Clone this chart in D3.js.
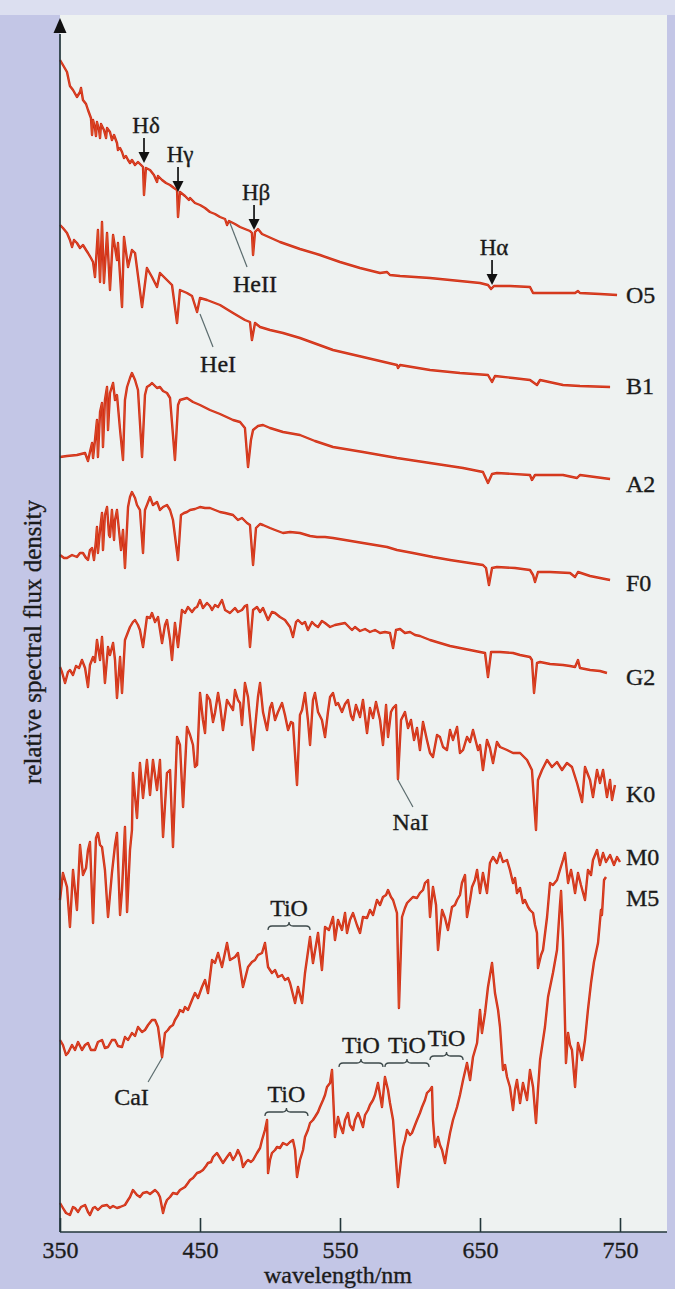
<!DOCTYPE html>
<html>
<head>
<meta charset="utf-8">
<script src="https://cdn.jsdelivr.net/npm/d3@7"></script>
<style>
  html, body { margin: 0; padding: 0; background: #c3c6e6; }
  svg { display: block; }
  text { font-family: "Liberation Serif", "Times New Roman", serif; fill: #1b1b1b; stroke: #1b1b1b; stroke-width: 0.35px; }
</style>
</head>
<body>
<svg id="chart" width="675" height="1289"></svg>
<script>
// Stellar spectra, stacked: [wavelength in nm, relative flux density (offset per class)]
const spectrumO5 = [
  [350,117.2],[352.1,116.7],[355,116.0],[357.1,114.6],[359.3,114.2],[362.1,113.5],[364.3,114.0],[365,114.4],
  [366.4,113.2],[368.6,112.8],[370,112.2],[372.1,111.4],[372.9,109.7],[373.6,111.2],[375,110.4],[375.7,109.6],
  [376.4,111.0],[377.9,110.2],[378.6,109.4],[379.3,110.8],[381.4,110.2],[382.9,109.4],[383.6,110.4],[385.7,110.0],
  [387.1,109.2],[388.6,109.7],[390.7,108.9],[391.4,108.2],[392.9,108.4],[394.3,108.0],[395.7,107.4],[397.1,107.6],
  [398.6,107.2],[400,106.9],[401.4,107.2],[403.6,106.7],[405.7,107.0],[407.9,106.7],[409.3,106.5],[410,103.7],
  [411.4,106.4],[414.3,106.2],[417.1,105.7],[419.3,105.0],[420,105.6],[422.9,105.2],[425.7,104.9],[428.6,104.7],
  [431.4,104.4],[433.6,104.2],[434.3,101.5],[435.7,104.0],[439.3,103.6],[442.1,103.2],[442.9,103.4],[446.4,102.9],
  [450,102.7],[453.6,102.4],[457.1,102.0],[460.7,101.8],[464.3,101.5],[467.9,101.3],[469.3,100.7],[470.7,101.1],
  [475,100.8],[478.6,100.5],[482.1,100.3],[485.7,100.1],[487.1,99.9],[487.9,97.7],[489.3,100.0],[491.4,100.3],
  [494.3,99.8],[507.1,99.0],[521.4,98.3],[535.7,97.7],[550,97.0],[564.3,96.4],[578.6,95.9],[583.6,96.0],
  [585.7,95.7],[592.9,95.6],[614.3,95.4],[635.7,95.1],[650,94.9],[655.7,94.7],[657.9,94.3],[660,94.6],
  [671.4,94.6],[685.7,94.5],[687.9,93.9],[707.1,93.9],[717.9,93.9],[720,94.1],[721.4,93.9],[735.7,93.8],[747.9,93.7]
];

const spectrumB1 = [
  [350,100.7],[352.1,100.4],[355,99.9],[357.1,99.2],[358.6,98.5],[360,99.2],[362.1,98.9],[364.3,98.4],
  [366.4,98.7],[368.6,98.2],[370,97.9],[372.1,97.4],[373.6,97.0],[375,95.5],[377.1,100.2],[378.6,95.0],
  [380,101.0],[381.4,94.9],[383.6,99.9],[385.7,94.2],[387.9,99.7],[390.7,97.2],[391.4,98.9],[394.3,92.5],
  [395.7,99.5],[398.6,96.5],[401.4,98.2],[403.6,97.9],[408.6,92.5],[412.1,96.4],[415.7,95.5],[419.3,94.5],
  [421.4,95.9],[426.4,95.2],[430,94.7],[433.6,90.9],[435.7,94.2],[440.7,93.9],[444.3,93.6],[447.9,92.0],
  [450,93.4],[455,93.2],[464.3,92.7],[473.6,91.9],[482.1,91.2],[485.7,91.0],[487.1,89.2],[489.3,90.9],
  [492.9,90.5],[500,90.2],[509.3,89.9],[521.4,89.4],[545,88.2],[566.4,87.5],[590.7,86.7],[591.4,86.4],
  [592.9,86.7],[614.3,86.2],[635.7,85.9],[655.7,85.7],[658.6,85.0],[660.7,85.6],[673.6,85.4],[685.7,85.2],
  [690.7,84.7],[692.9,85.2],[709.3,84.7],[721.4,84.6],[742.9,84.5]
];

const spectrumA2 = [
  [350,77.5],[355,77.6],[362.1,77.7],[367.9,77.9],[370,77.1],[371.4,78.0],[372.9,78.9],[373.6,77.4],
  [375,79.2],[376.4,81.2],[377.1,77.5],[378.6,82.0],[380,82.9],[380.7,78.5],[382.1,83.2],[383.6,84.5],
  [384.3,80.2],[385.7,83.9],[387.9,84.9],[389.3,83.2],[390.7,83.7],[392.9,80.2],[395,77.2],[396.4,83.2],
  [397.9,84.5],[400,85.4],[401.4,85.9],[403.6,85.2],[405.7,84.2],[408.6,77.5],[410.7,83.7],[412.1,84.5],
  [414.3,84.7],[415.7,84.9],[419.3,84.4],[421.4,84.5],[423.6,84.1],[426.4,83.9],[428.6,83.4],[432.1,77.2],
  [434.3,82.7],[435.7,83.2],[440.7,83.4],[445,83.0],[450,82.7],[457.1,82.2],[464.3,81.8],[473.6,81.2],
  [478.6,81.0],[482.1,80.4],[484.3,76.5],[486.4,79.2],[487.9,80.2],[491.4,80.6],[495,80.7],[500,80.4],
  [509.3,80.0],[521.4,79.7],[532.1,79.1],[545,78.5],[566.4,78.0],[590.7,77.4],[614.3,76.9],[637.9,76.4],
  [652.1,76.0],[655.7,74.9],[658.6,75.8],[662.1,75.9],[685.7,75.7],[687.1,75.2],[689.3,75.7],[709.3,75.7],
  [719.3,75.4],[721.4,75.7],[732.1,75.5],[742.9,75.3]
];

const spectrumF0 = [
  [350,67.7],[352.9,67.4],[355,67.4],[358.6,67.7],[362.1,67.5],[364.3,67.9],[366.4,67.9],[368.6,67.4],
  [370,67.2],[371.4,68.2],[372.9,68.4],[374.3,67.2],[375.7,69.2],[376.4,70.5],[377.1,67.9],[378.6,70.2],
  [380,71.9],[380.7,68.2],[382.1,71.7],[383.6,72.5],[385,69.7],[385.7,69.5],[387.1,72.2],[388.6,69.2],
  [389.3,71.2],[390.7,72.2],[392.1,70.2],[393.6,68.2],[395,70.2],[396.4,66.4],[398.6,72.5],[400,73.5],
  [401.4,74.0],[403.6,73.4],[405,72.7],[407.1,72.2],[409.3,67.9],[410.7,72.2],[412.1,72.7],[414.3,73.5],
  [416.4,72.7],[419.3,73.0],[421.4,72.2],[423.6,72.5],[426.4,72.7],[428.6,72.2],[430.7,71.2],[434.3,67.2],
  [436.4,71.7],[438.6,71.9],[440.7,72.0],[442.9,72.2],[446.4,72.3],[450,72.5],[453.6,72.4],[457.1,72.4],
  [460.7,72.2],[464.3,72.0],[467.9,71.9],[473.6,71.7],[477.1,71.2],[480,71.4],[483.6,70.9],[485.7,70.7],
  [487.9,66.7],[490,70.4],[492.9,70.8],[495,70.7],[500,70.4],[503.6,70.2],[509.3,69.9],[514.3,70.0],
  [521.4,69.9],[528.6,69.6],[533.6,69.5],[539.3,69.5],[545,69.4],[553.6,69.2],[566.4,68.9],[575,68.7],
  [583.6,68.5],[590.7,68.2],[602.1,67.9],[616.4,67.5],[628.6,67.2],[637.9,67.0],[652.1,66.7],[654.3,66.4],
  [656.4,64.7],[658.6,66.4],[662.1,66.5],[675,66.4],[685.7,66.2],[687.9,65.7],[689.3,65.0],[691.4,66.0],
  [700,66.0],[714.3,65.9],[717.9,65.5],[720,66.0],[728.6,65.6],[735.7,65.4],[742.9,65.2]
];

const spectrumG2 = [
  [350,56.5],[351.4,56.0],[353.6,54.9],[355.7,56.0],[357.1,56.2],[359.3,55.7],[361.4,56.6],[363.6,56.4],
  [365.7,57.2],[367.9,56.4],[370,54.5],[371.4,56.7],[373.6,57.5],[375,57.0],[376.4,59.2],[378.6,57.2],
  [380,59.5],[382.1,54.9],[384.3,58.5],[385.7,57.7],[387.9,58.9],[389.3,57.2],[390.7,53.4],[392.9,57.5],
  [394.3,53.9],[396.4,59.2],[398.6,60.0],[400,60.5],[402.1,61.0],[403.6,61.2],[405.7,60.7],[407.1,60.2],
  [409.3,58.5],[412.1,61.5],[414.3,61.4],[415.7,61.9],[417.9,61.0],[420,61.5],[422.9,58.9],[425,60.7],
  [426.4,61.2],[428.6,59.2],[430,57.2],[432.1,60.9],[434.3,58.5],[437.1,62.2],[439.3,61.9],[441.4,62.5],
  [444.3,62.0],[446.4,62.4],[447.9,62.5],[450,63.2],[452.1,62.4],[455,62.9],[457.1,62.6],[458.6,62.2],
  [460.7,62.7],[462.9,62.5],[465.7,63.2],[467.9,62.2],[471.4,61.9],[475,62.4],[477.1,62.0],[480,62.2],
  [482.1,62.6],[483.6,62.7],[485.7,58.5],[487.9,62.2],[490.7,62.5],[492.9,62.0],[495,62.4],[498.6,61.2],
  [501.4,62.0],[503.6,61.9],[507.1,61.5],[510.7,61.2],[514.3,60.5],[516.4,59.5],[518.6,61.0],[520,61.2],
  [522.9,60.8],[525,61.0],[527.1,60.2],[530,61.0],[532.1,60.7],[534.3,60.5],[537.1,61.1],[539.3,60.9],
  [542.9,60.5],[546.4,60.7],[550,60.8],[553.6,60.9],[557.1,60.4],[558.6,60.2],[560.7,60.5],[564.3,60.1],
  [567.9,60.3],[571.4,60.0],[575,60.2],[578.6,59.9],[582.1,60.0],[585.7,59.9],[587.9,58.4],[590,60.2],
  [592.9,60.3],[596.4,59.9],[600,60.0],[603.6,59.7],[607.1,59.6],[610.7,59.4],[614.3,59.2],[621.4,58.9],
  [628.6,58.6],[635.7,58.4],[642.9,58.2],[650,58.0],[653.6,57.9],[655.7,55.5],[657.9,58.0],[664.3,58.0],
  [673.6,57.9],[678.6,57.7],[685.7,57.5],[687.1,57.2],[688.6,53.9],[690.7,56.9],[692.9,57.0],[700,56.8],
  [709.3,56.7],[714.3,56.6],[717.9,56.5],[720,57.2],[721.4,56.4],[728.6,56.2],[735.7,56.1],[740.7,55.9]
];

const spectrumK0 = [
  [350,33.2],[352.1,35.9],[355,34.5],[357.1,30.5],[359.3,36.2],[360.7,34.2],[362.1,32.2],[364.3,38.7],
  [366.4,35.7],[368.6,36.4],[370,38.2],[371.4,39.0],[373.6,30.9],[375.7,39.4],[377.1,39.9],[378.6,38.7],
  [380,38.5],[382.1,36.2],[384.3,31.5],[387.1,35.9],[389.3,38.7],[390.7,39.9],[392.9,31.7],[394.3,34.2],
  [396.4,40.5],[397.9,32.0],[400,38.2],[401.4,40.2],[402.1,45.9],[405,41.4],[407.1,46.9],[409.3,43.4],
  [412.1,47.2],[414.3,43.7],[416.4,47.2],[419.3,44.2],[421.4,47.2],[423.6,39.5],[426.4,45.9],[428.6,46.2],
  [430.7,38.5],[433.6,49.5],[435.7,48.7],[437.9,42.5],[440.7,50.5],[442.9,49.7],[445,48.7],[446.4,46.5],
  [447.9,46.7],[450,53.9],[452.1,51.2],[453.6,49.9],[455,53.7],[457.1,53.2],[459.3,51.0],[460.7,51.9],
  [462.9,53.9],[464.3,52.7],[466.4,50.2],[469.3,53.2],[471.4,52.7],[473.6,52.2],[475,54.2],[477.1,53.2],
  [478.6,52.9],[480,50.7],[482.1,54.9],[484.3,53.5],[487.9,48.2],[491.4,53.5],[492.9,54.9],[495,52.0],
  [497.9,50.2],[500,52.4],[501.4,52.9],[503.6,51.2],[505.7,52.0],[508.6,52.9],[510.7,51.7],[512.9,50.2],
  [515,51.0],[516.4,50.9],[519.3,44.7],[521.4,51.7],[522.9,52.2],[525,53.9],[527.1,51.2],[528.6,48.7],
  [530.7,53.2],[532.1,53.9],[534.3,52.0],[537.1,51.2],[539.3,49.5],[541.4,52.0],[542.9,53.5],[545,53.9],
  [547.1,52.7],[548.6,52.9],[551.4,52.0],[553.6,52.8],[555.7,53.2],[557.9,51.6],[559.3,51.2],[561.4,52.7],
  [564.3,51.5],[566.4,53.2],[569.3,49.9],[571.4,52.4],[573.6,51.4],[575.7,53.0],[578.6,51.2],[580.7,48.7],
  [582.9,52.7],[584.3,49.5],[586.4,52.0],[587.9,52.4],[590,52.7],[591.4,45.3],[593.6,51.2],[596.4,52.0],
  [598.6,50.4],[600.7,51.2],[602.9,49.2],[605,50.4],[607.1,48.2],[609.3,51.0],[612.1,49.2],[614.3,47.9],
  [616.4,47.5],[619.3,49.7],[621.4,49.5],[623.6,48.5],[626.4,48.2],[628.6,50.2],[630.7,49.2],[633.6,50.5],
  [635.7,47.9],[637.9,48.2],[640.7,49.5],[642.9,49.0],[645,50.2],[648.6,48.2],[650,48.7],[652.1,46.2],
  [655,49.2],[657.1,48.4],[659.3,46.9],[662.1,49.0],[664.3,48.5],[669.3,48.2],[673.6,47.9],[678.6,47.9],
  [683.6,47.2],[687.1,46.2],[690,40.2],[691.4,45.2],[694.3,46.2],[697.9,47.2],[701.4,46.5],[705,47.0],
  [708.6,46.2],[712.1,46.9],[715.7,46.5],[719.3,44.9],[722.9,43.0],[725,46.5],[728.6,45.2],[730.7,43.5],
  [733.6,46.2],[735.7,44.9],[737.9,46.2],[740.7,43.5],[742.9,45.2],[744.3,43.2],[746.4,44.7]
];

const spectrumM0 = [
  [350,19.2],[352.1,18.7],[354.3,17.7],[355.7,17.9],[358.6,18.7],[360.7,18.2],[362.9,19.0],[365.7,18.2],
  [367.9,18.7],[370,18.9],[372.1,18.2],[375,18.2],[377.1,19.0],[380,19.2],[382.1,18.4],[384.3,18.5],
  [387.1,19.2],[389.3,19.2],[391.4,18.6],[394.3,18.5],[396.4,19.5],[398.6,19.2],[401.4,19.9],[403.6,19.6],
  [405.7,20.5],[408.6,20.0],[410.7,20.2],[412.9,20.7],[415.7,21.2],[417.9,21.2],[420,20.5],[422.9,17.5],
  [425,19.9],[427.1,20.2],[428.6,20.5],[430.7,20.7],[432.1,21.2],[434.3,21.7],[435.7,22.2],[437.9,22.0],
  [439.3,22.5],[441.4,22.2],[444.3,23.2],[446.4,23.9],[448.6,23.4],[451.4,24.5],[453.6,25.2],[455.7,23.9],
  [458.6,27.2],[460.7,26.9],[462.9,27.9],[465.7,26.5],[469.3,28.9],[471.4,27.2],[475,27.5],[477.1,27.9],
  [480.7,24.5],[484.3,26.5],[487.1,27.0],[489.3,27.2],[491.4,27.7],[494.3,27.9],[496.4,28.9],[498.6,26.5],
  [501.4,25.9],[503.6,26.2],[505.7,25.5],[508.6,25.7],[510.7,25.2],[512.9,25.4],[514.3,24.9],[517.9,22.9],
  [520,24.5],[522.9,22.9],[525,25.9],[528.6,29.5],[530.7,26.9],[534.3,29.9],[537.1,26.2],[539.3,30.5],
  [542.1,30.2],[545,31.5],[546.4,29.2],[548.6,31.2],[551.4,30.2],[553.6,31.9],[555,29.9],[557.1,31.2],
  [559.3,31.9],[562.1,30.7],[564.3,29.9],[566.4,31.5],[569.3,31.4],[571.4,32.2],[573.6,31.7],[576.4,33.2],
  [578.6,32.7],[580.7,33.5],[582.9,33.7],[584.3,34.2],[586.4,33.5],[587.9,33.2],[590.7,31.9],[592.1,22.4],
  [594.3,31.5],[596.4,32.4],[597.9,32.9],[600,33.2],[602.1,33.5],[605,33.4],[607.1,33.9],[609.3,34.2],
  [610.7,34.9],[612.9,35.2],[614.3,31.5],[616.4,34.5],[618.6,32.7],[620,28.2],[622.9,32.2],[625,31.4],
  [627.1,30.2],[630,32.5],[632.1,32.7],[633.6,33.2],[635.7,33.7],[637.1,34.9],[639.3,35.7],[640.7,31.5],
  [642.9,33.2],[644.3,34.5],[646.4,35.2],[647.9,36.2],[650,33.9],[652.1,35.9],[655,33.9],[657.1,36.9],
  [659.3,37.5],[662.1,36.9],[664.3,37.9],[666.4,37.0],[669.3,37.2],[671.4,36.2],[673.6,34.9],[675,35.4],
  [676.4,33.9],[678.6,34.4],[680.7,32.9],[682.1,33.2],[684.3,32.5],[685.7,32.2],[687.9,31.9],[689.3,30.7],
  [690.7,29.9],[691.4,26.4],[693.6,27.7],[695,28.2],[697.9,31.5],[700,34.9],[702.1,34.7],[705,35.2],
  [707.1,36.2],[709.3,37.2],[710.7,37.9],[712.9,34.9],[715,36.2],[716.4,35.2],[717.9,33.9],[720,35.9],
  [722.1,34.7],[725,33.2],[727.1,36.2],[729.3,35.7],[730.7,37.2],[733.6,38.2],[735.7,36.7],[737.9,37.9],
  [740,37.0],[742.9,37.7],[745.7,36.7],[747.9,37.5],[750,37.0]
];

const spectrumM5 = [
  [350,2.9],[352.1,2.4],[354.3,1.9],[357.1,1.7],[359.3,2.5],[360.7,2.4],[362.9,2.0],[365,2.5],
  [367.9,2.7],[370,2.0],[371.4,1.7],[373.6,2.4],[375,2.5],[377.1,2.2],[380,2.6],[383.6,2.7],
  [385.7,2.4],[387.9,2.6],[390.7,2.4],[392.9,2.5],[396.4,2.7],[398.6,3.2],[400,3.5],[402.1,4.2],
  [405,3.7],[407.1,3.5],[409.3,3.9],[412.1,4.0],[414.3,3.8],[417.9,4.2],[420,3.9],[421.4,3.5],
  [423.6,1.9],[425,2.7],[426.4,3.2],[428.6,3.5],[430.7,3.9],[433.6,3.8],[435.7,4.2],[439.3,4.5],
  [441.4,4.9],[442.9,5.2],[445,5.4],[447.9,5.9],[450,6.0],[452.1,6.2],[454.3,6.6],[455.7,6.9],
  [457.9,7.0],[459.3,7.5],[462.1,7.9],[464.3,7.4],[466.4,6.9],[469.3,7.5],[471.4,7.9],[473.6,7.2],
  [475.7,7.7],[477.1,8.2],[479.3,7.5],[480.7,6.5],[482.9,7.0],[484.3,7.2],[486.4,7.0],[487.9,7.2],
  [490.7,7.9],[492.9,8.4],[494.3,9.2],[496.4,10.2],[497.9,11.2],[498.6,5.9],[500,7.2],[501.4,7.9],
  [503.6,8.2],[505,8.5],[507.1,8.4],[509.3,8.9],[512.1,8.7],[514.3,9.0],[516.4,9.2],[517.9,8.2],
  [519.3,5.5],[521.4,7.2],[523.6,8.2],[525,9.5],[527.1,10.2],[528.6,10.9],[530.7,11.2],[532.1,11.5],
  [534.3,12.0],[535.7,12.5],[537.9,13.2],[539.3,13.7],[540.7,14.5],[542.9,14.9],[544.3,16.2],[546.4,9.5],
  [548.6,11.5],[550,10.7],[552.1,9.9],[553.6,11.2],[555.7,11.9],[557.1,10.7],[559.3,10.2],[560.7,11.2],
  [562.9,11.9],[564.3,11.4],[566.4,10.5],[567.9,11.7],[570,12.2],[571.4,12.7],[573.6,13.2],[575,13.7],
  [577.1,14.9],[578.6,13.7],[580,12.5],[582.1,15.5],[584.3,14.2],[585.7,12.9],[587.9,11.2],[589.3,8.5],
  [591.4,4.5],[593.6,7.2],[595,8.5],[596.4,9.2],[597.9,10.2],[600,9.7],[601.4,9.9],[603.6,10.7],
  [605,11.2],[607.1,11.9],[608.6,12.5],[610.7,13.2],[612.1,13.9],[614.3,14.2],[615.7,14.5],[616.4,11.2],
  [617.9,8.5],[619.3,9.2],[620,9.5],[621.4,8.7],[622.9,8.2],[625,6.9],[626.4,8.2],[628.6,9.9],
  [630.7,11.2],[633.6,12.5],[635.7,13.7],[637.9,15.2],[640.7,16.9],[642.9,15.2],[645,17.5],[647.9,18.9],
  [650,22.2],[651.4,19.9],[653.6,21.9],[655.7,24.5],[658.6,26.9],[660.7,23.9],[662.9,22.2],[664.3,20.5],
  [666.4,16.2],[667.9,16.7],[669.3,15.5],[671.4,14.5],[673.6,12.2],[675,14.2],[676.4,15.2],[678.6,12.9],
  [680.7,14.9],[683.6,13.2],[685.7,16.2],[687.9,14.5],[690,10.9],[691.4,14.2],[692.9,17.2],[696.4,20.5],
  [698.6,23.5],[702.1,25.9],[705,28.2],[707.1,32.7],[707.9,34.1],[709.3,29.2],[711.4,16.9],[712.9,19.9],
  [714.3,18.7],[715.7,18.2],[717.9,14.5],[720,18.9],[721.4,18.2],[722.9,17.2],[725,19.2],[727.1,22.2],
  [729.3,24.9],[731.4,27.0],[734.3,28.9],[736.4,32.2],[737.1,31.7],[738.6,35.2],[740,35.5]
];

const spectralClasses = ["O5", "B1", "A2", "F0", "G2", "K0", "M0", "M5"];
const spectra = [spectrumO5, spectrumB1, spectrumA2, spectrumF0, spectrumG2, spectrumK0, spectrumM0, spectrumM5];
// flux level at which each class name sits, right of its curve
const classLabelLevels = [93.7, 84.6, 74.8, 64.9, 55.5, 43.8, 37.5, 33.4];

const xTicks = [350, 450, 550, 650, 750];

// Balmer lines marked with arrows on the O5 spectrum
const arrowMarks = [
  { text: "Hδ", wave: 410.0, level: 106.9 },
  { text: "Hγ", wave: 434.3, level: 104.0 },
  { text: "Hβ", wave: 488.6, level: 100.2 },
  { text: "Hα", wave: 658.6, level: 94.7 }
];

// Lines identified with a thin leader
const leaderMarks = [
  { text: "HeII", from: [471.4, 100.9], to: [483.6, 96.5], at: [489.3, 94.0] },
  { text: "HeI",  from: [450.0, 91.8],  to: [459.3, 88.5], at: [462.9, 86.0] },
  { text: "NaI",  from: [591.4, 45.2],  to: [602.1, 42.5], at: [600.4, 40.2] },
  { text: "CaI",  from: [422.9, 17.4],  to: [412.9, 15.0], at: [401.1, 12.7] }
];

// TiO molecular bands, each marked with a brace
const tioBands = [
  { from: 498.6, to: 528.6, level: 30.6 },
  { from: 496.4, to: 527.1, level: 12.0 },
  { from: 549.3, to: 580.7, level: 16.9 },
  { from: 582.1, to: 613.6, level: 16.9 },
  { from: 614.3, to: 637.9, level: 17.6 }
];

const W = 675, H = 1289;
const plotLeft = 60, plotRight = 667, plotTop = 15, plotBottom = 1232;

const svg = d3.select("#chart");

const x = d3.scaleLinear().domain([350, 750]).range([plotLeft, 620]);
const y = d3.scaleLinear().domain([0, 121]).range([plotBottom, 22]);

// frame and panel
svg.append("rect").attr("width", W).attr("height", H).attr("fill", "#c3c6e6");
svg.append("rect").attr("width", W).attr("height", plotTop).attr("fill", "#dcdff0");
svg.append("rect")
  .attr("x", plotLeft).attr("y", plotTop)
  .attr("width", plotRight - plotLeft).attr("height", plotBottom - plotTop)
  .attr("fill", "#eef2f1");

// spectra: a red stroke with a lighter orange core, as printed
const line = d3.line().x(d => x(d[0])).y(d => y(d[1]));
const curves = svg.append("g");
curves.selectAll("path.edge")
  .data(spectra)
  .join("path")
  .attr("class", "edge")
  .attr("d", line)
  .attr("fill", "none")
  .attr("stroke", "#cf2b17")
  .attr("stroke-width", 2.4)
  .attr("stroke-linejoin", "round");
curves.selectAll("path.core")
  .data(spectra)
  .join("path")
  .attr("class", "core")
  .attr("d", line)
  .attr("fill", "none")
  .attr("stroke", "#ee7a3a")
  .attr("stroke-opacity", 0.55)
  .attr("stroke-width", 0.7)
  .attr("stroke-linejoin", "round");

// class names
svg.append("g").selectAll("text")
  .data(spectralClasses)
  .join("text")
  .attr("x", x(754.3))
  .attr("y", (d, i) => y(classLabelLevels[i]) + 8)
  .attr("font-size", 24)
  .text(d => d);

// arrows for Balmer lines
const arrows = svg.append("g");
arrowMarks.forEach(m => {
  const ax = x(m.wave), tip = y(m.level);
  arrows.append("line")
    .attr("x1", ax).attr("x2", ax)
    .attr("y1", tip - 25).attr("y2", tip - 8)
    .attr("stroke", "#111").attr("stroke-width", 1.7);
  arrows.append("path")
    .attr("d", `M${ax - 5.5},${tip - 11}L${ax + 5.5},${tip - 11}L${ax},${tip}Z`)
    .attr("fill", "#111");
  arrows.append("text")
    .attr("x", ax + 2).attr("y", tip - 30)
    .attr("text-anchor", "middle")
    .attr("font-size", 23)
    .text(m.text);
});

// leader-line labels
const leaders = svg.append("g");
leaderMarks.forEach(m => {
  leaders.append("line")
    .attr("x1", x(m.from[0])).attr("y1", y(m.from[1]))
    .attr("x2", x(m.to[0])).attr("y2", y(m.to[1]))
    .attr("stroke", "#5b6c6e").attr("stroke-width", 1.2);
  leaders.append("text")
    .attr("x", x(m.at[0])).attr("y", y(m.at[1]))
    .attr("text-anchor", "middle")
    .attr("font-size", 24)
    .text(m.text);
});

// braces over TiO bands
const braces = svg.append("g");
tioBands.forEach(b => {
  const x0 = x(b.from), x1 = x(b.to), xc = (x0 + x1) / 2, yb = y(b.level);
  const path = `M${x0},${yb + 4} Q${x0},${yb} ${x0 + 4},${yb} L${xc - 4},${yb} Q${xc},${yb} ${xc},${yb - 4}` +
               ` Q${xc},${yb} ${xc + 4},${yb} L${x1 - 4},${yb} Q${x1},${yb} ${x1},${yb + 4}`;
  braces.append("path").attr("d", path)
    .attr("fill", "none").attr("stroke", "#3d4a4b").attr("stroke-width", 1.3);
  braces.append("text")
    .attr("x", xc).attr("y", yb - 10)
    .attr("text-anchor", "middle")
    .attr("font-size", 24)
    .text("TiO");
});

// x axis: ticks point up into the panel, labels below
const xAxis = d3.axisBottom(x).tickValues(xTicks).tickSize(-14).tickSizeOuter(0).tickPadding(9);
const gx = svg.append("g").attr("transform", `translate(0,${plotBottom})`).call(xAxis);
gx.select(".domain").remove();
gx.selectAll(".tick line").attr("stroke", "#22363a").attr("stroke-width", 1.6);
gx.selectAll(".tick text")
  .attr("font-family", "Liberation Serif, Times New Roman, serif")
  .attr("font-size", 24).attr("fill", "#1b1b1b");
svg.append("line")
  .attr("x1", plotLeft).attr("x2", plotRight)
  .attr("y1", plotBottom).attr("y2", plotBottom)
  .attr("stroke", "#22363a").attr("stroke-width", 1.7);

// y axis with arrowhead
svg.append("line")
  .attr("x1", plotLeft).attr("x2", plotLeft)
  .attr("y1", plotBottom).attr("y2", y(119.8))
  .attr("stroke", "#22363a").attr("stroke-width", 1.7);
svg.append("path")
  .attr("d", `M${plotLeft - 6.5},${y(119.9)}L${plotLeft + 6.5},${y(119.9)}L${plotLeft},${y(121.4)}Z`)
  .attr("fill", "#111");

// axis titles
svg.append("text")
  .attr("x", x(550) - 2).attr("y", 1283)
  .attr("text-anchor", "middle")
  .attr("font-size", 24)
  .text("wavelength/nm");
svg.append("text")
  .attr("transform", `translate(41,642) rotate(-90)`)
  .attr("text-anchor", "middle")
  .attr("font-size", 25)
  .text("relative spectral flux density");
</script>
</body>
</html>
